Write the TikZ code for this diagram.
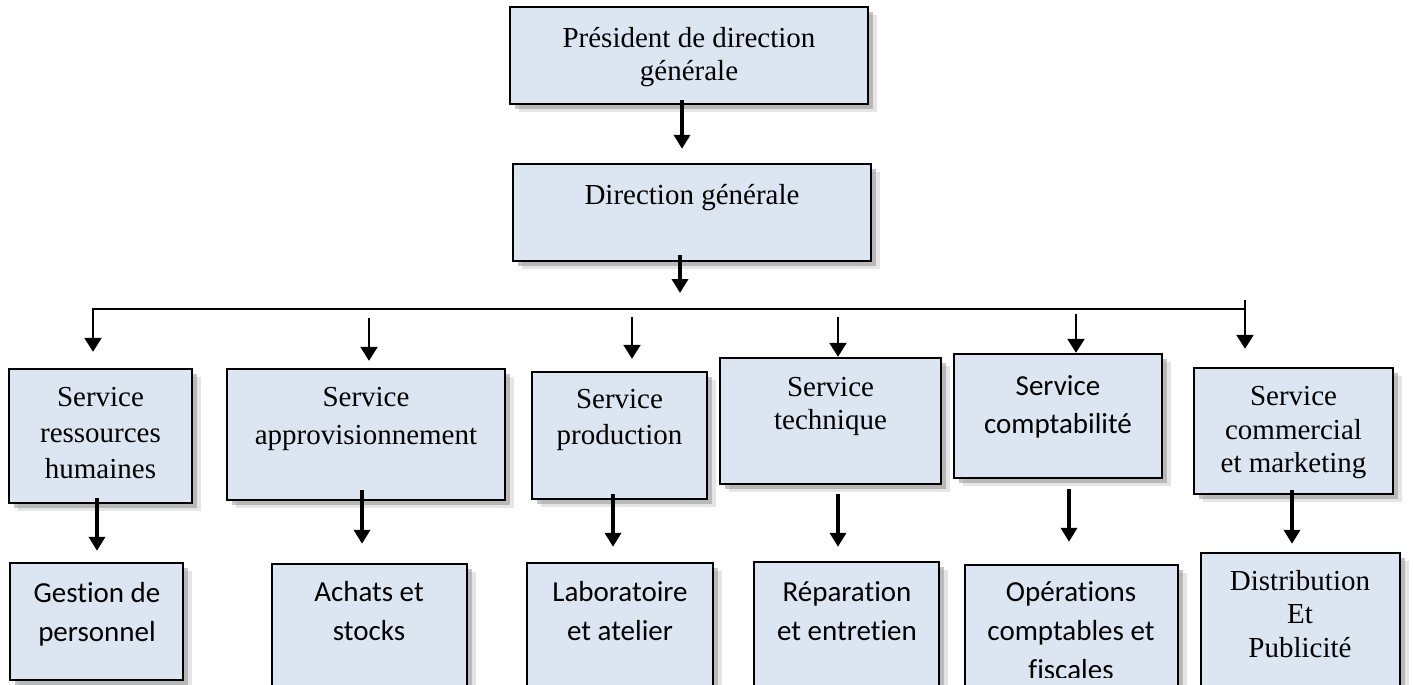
\documentclass[tikz,border=0pt]{standalone}
\usepackage{fontspec}
\setmainfont{Liberation Serif}
\newfontfamily\calib[Ligatures=NoCommon]{Carlito}
\usepackage{tikz}
\usetikzlibrary{arrows.meta,positioning,fit,shadows}
\definecolor{boxc}{HTML}{DCE6F2}

\begin{document}
\begin{tikzpicture}[x=0.5pt,y=-0.5pt,
  box/.style={draw=black,line width=1.2pt,fill=boxc,inner sep=0pt,
    drop shadow={shadow xshift=4.5pt,shadow yshift=-4pt,fill=black!20},
    drop shadow={shadow xshift=2.5pt,shadow yshift=-2.5pt,fill=black!45}},
  tm/.style={align=center,inner sep=0pt,font=\fontsize{14.5}{19}\selectfont},
  cb/.style={align=center,inner sep=0pt,font=\calib\fontsize{14.5}{19.5}\selectfont},
  down/.style={-{Triangle[length=7pt,width=8pt]},line width=2pt},
  branch/.style={-{Triangle[length=7pt,width=8.5pt]},line width=1.2pt}]
\useasboundingbox (0,0) rectangle (1413,685);
\clip (0,0) rectangle (1413,685);

% direction
\node[box,fit={(510,7)(868,104)}] (pdg) {};
\node[tm,font=\fontsize{14.5}{16.5}\selectfont] (pdg-t) at (689,57) {Président de direction\\générale};
\node[box,fit={(513,164)(871,261)}] (dg) {};
\node[tm] (dg-t) at (692,198) {Direction générale};

% services
\node[box,fit={(9,369)(192,503)}] (srh) {};
\node[tm,font=\fontsize{14.5}{18}\selectfont] (srh-t) at (100.5,433) {Service\\ressources\\humaines};
\node[box,fit={(227,369)(505,500)}] (sap) {};
\node[tm] (sap-t) at (366,419) {Service\\approvisionnement};
\node[box,fit={(532,372)(707,499)}] (spr) {};
\node[tm,font=\fontsize{14.5}{18}\selectfont] (spr-t) at (619.5,420) {Service\\production};
\node[box,fit={(720,358)(941,484)}] (ste) {};
\node[tm,font=\fontsize{14.5}{16.5}\selectfont] (ste-t) at (830.5,406) {Service\\technique};
\node[box,fit={(954,354)(1162,478)}] (sco) {};
\node[cb,font=\calib\fontsize{14.5}{19}\selectfont] (sco-t) at (1058,407) {Service\\comptabilité};
\node[box,fit={(1194,368)(1393,494)}] (scm) {};
\node[tm,font=\fontsize{14.5}{16.75}\selectfont] (scm-t) at (1293.5,433) {Service\\commercial\\et marketing};

% sous-services
\node[box,fit={(10,563)(183,680)}] (gp) {};
\node[cb] (gp-t) at (97,614.5) {Gestion de\\personnel};
\node[box,fit={(272,564)(467,700)}] (as) {};
\node[cb] (as-t) at (369,611.5) {Achats et\\stocks};
\node[box,fit={(527,563)(713,700)}] (la) {};
\node[cb] (la-t) at (620,611.5) {Laboratoire\\et atelier};
\node[box,fit={(754,562)(939,700)}] (re) {};
\node[cb] (re-t) at (847,611.5) {Réparation\\et entretien};
\node[box,fit={(965,565)(1178,700)}] (oc) {};
\begin{scope}
\clip (965,560) rectangle (1178,677);
\node[cb] (oc-t) at (1071,631) {Opérations\\comptables et\\fiscales};
\end{scope}
\node[box,fit={(1201,553)(1400,700)}] (dp) {};
\node[tm,font=\fontsize{14.5}{16.75}\selectfont] (dp-t) at (1300,613.6) {Distribution\\Et\\Publicité};

% liaisons
\coordinate (a0) at (682,100);
\coordinate (a1) at (680,255);
\coordinate (bus) at (680,309);
\coordinate (busL) at (93,309);
\coordinate (busR) at (1245,309);
\draw[down,shorten >=7pt] (a0) -- (a0 |- dg.north);
\draw[down,shorten >=8pt] (a1) -- (bus);
\draw[branch,shorten >=8pt] (busR) -- (busL) -- (busL |- srh.north);

\coordinate (c2) at (369,318);
\coordinate (c3) at (632,317);
\coordinate (c4) at (838,317);
\coordinate (c5) at (1076,314);
\coordinate (c6) at (1245,300);
\foreach \c/\n/\s in {c2/sap/3.5pt,c3/spr/6pt,c4/ste/0pt,c5/sco/0pt,c6/scm/9pt}
  \draw[branch,shorten >=\s] (\c) -- (\c |- \n.north);

\coordinate (d1) at (97,498);
\coordinate (d2) at (362,490);
\coordinate (d3) at (613,494);
\coordinate (d4) at (838,494);
\coordinate (d5) at (1069,489);
\coordinate (d6) at (1292,490);
\foreach \c/\n/\s in {d1/gp/5.5pt,d2/as/9.5pt,d3/la/7.5pt,d4/re/7pt,d5/oc/11pt,d6/dp/4pt}
  \draw[down,shorten >=\s] (\c) -- (\c |- \n.north);
\end{tikzpicture}
\end{document}
